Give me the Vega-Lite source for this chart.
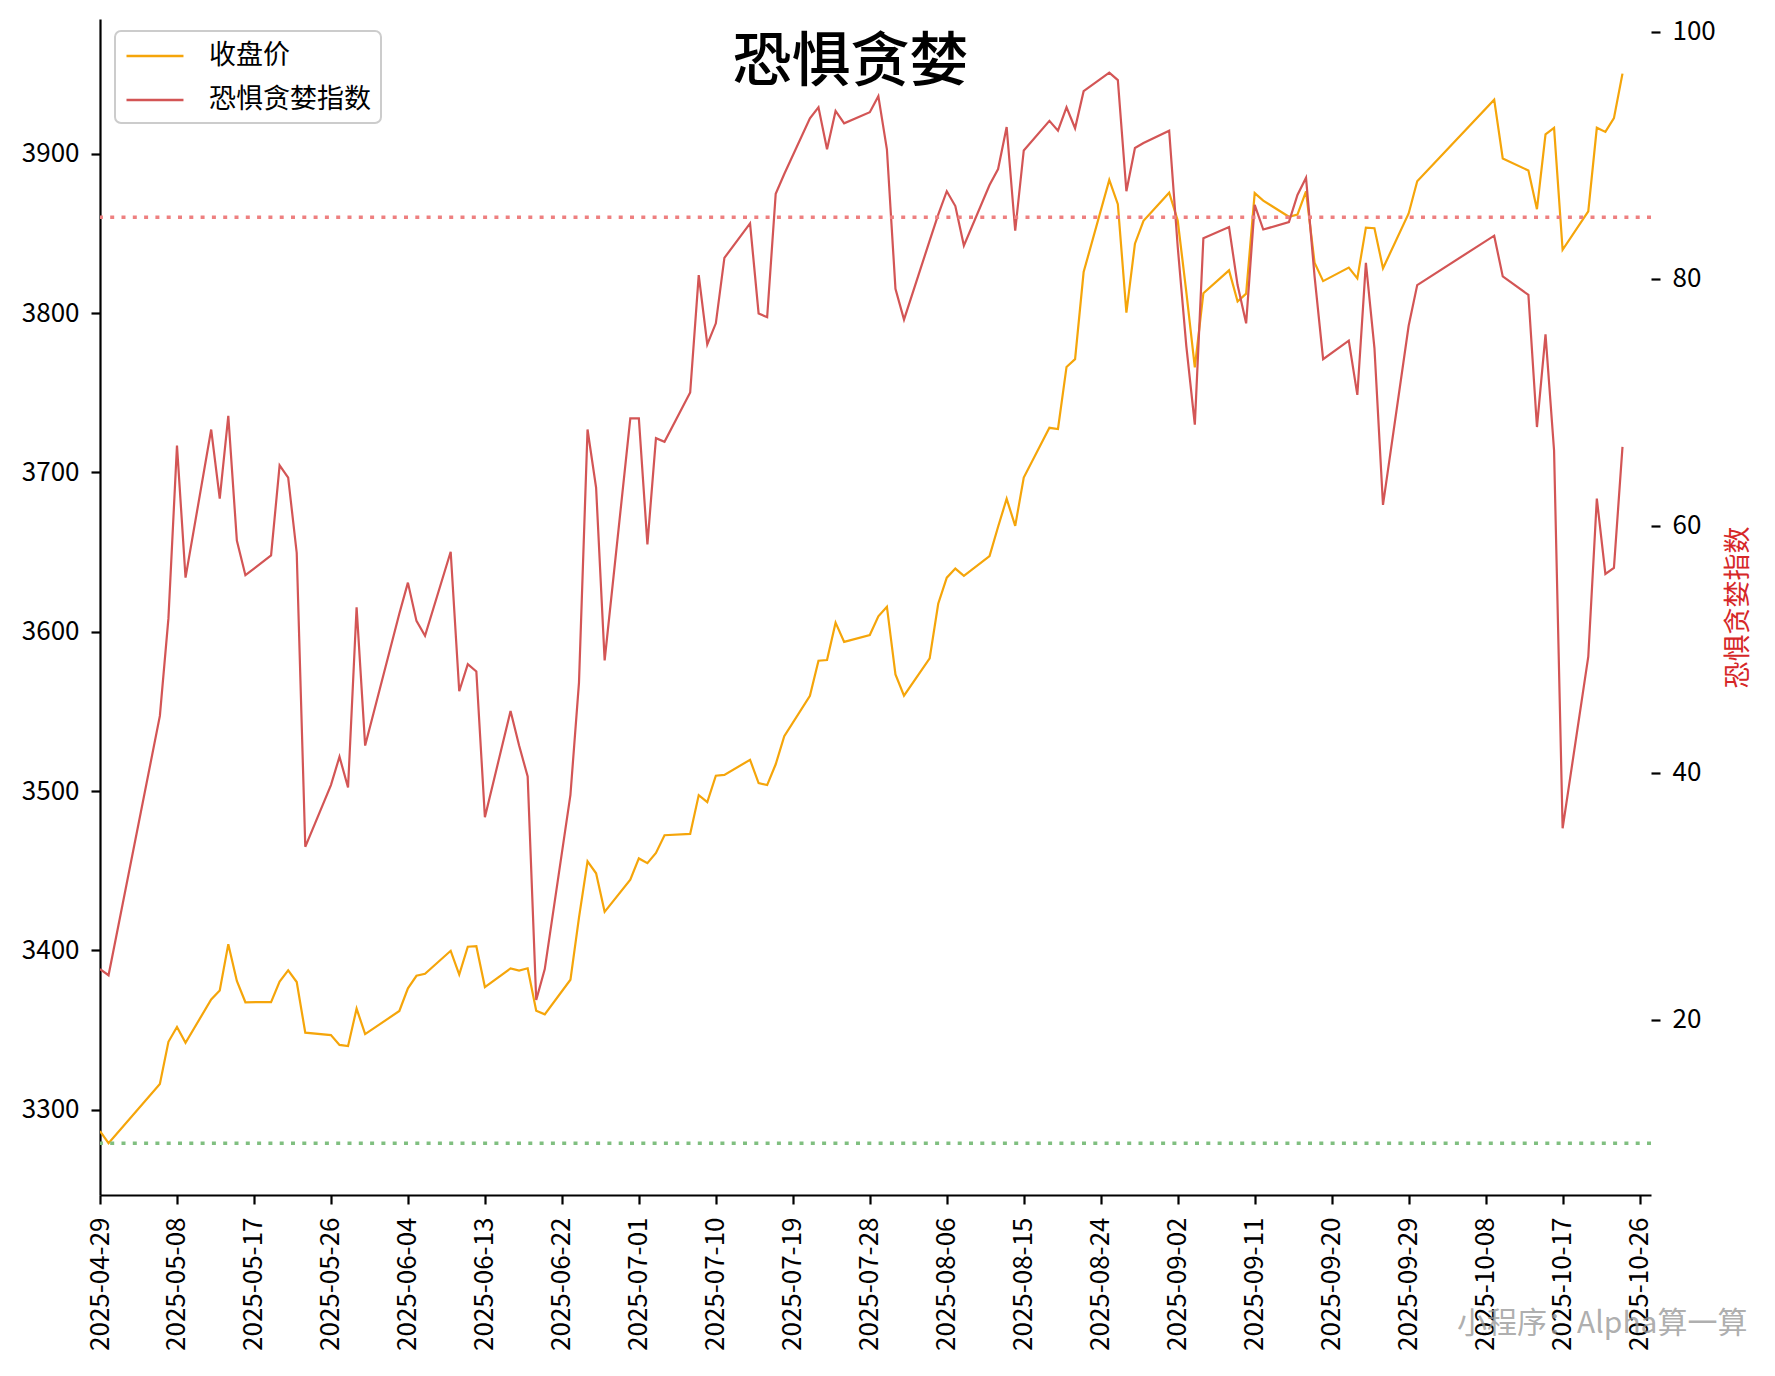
{
  "$schema": "https://vega.github.io/schema/vega-lite/v6.json",
  "width": 1551,
  "height": 1176,
  "autosize": {"type": "none"},
  "padding": {"left": 100, "top": 19, "right": 124, "bottom": 181},
  "background": "white",
  "config": {
    "font": "Noto Sans CJK SC",
    "view": {"stroke": null},
    "axis": {
      "labelFont": "Noto Sans CJK SC",
      "labelFontSize": 26,
      "labelColor": "black",
      "tickColor": "black",
      "domainColor": "black",
      "tickWidth": 2.2,
      "domainWidth": 2.2,
      "tickSize": 9,
      "labelPadding": 12,
      "grid": false,
      "titleFont": "Noto Sans CJK SC",
      "titleFontWeight": "normal"
    },
    "legend": {
      "orient": "none",
      "legendX": 15,
      "legendY": 12,
      "symbolType": "M-1,0H3.22",
      "symbolSize": 729,
      "symbolStrokeWidth": 2.5,
      "labelFont": "Noto Sans CJK SC",
      "labelFontSize": 27,
      "labelColor": "black",
      "labelOffset": 54,
      "rowPadding": 16,
      "padding": 10,
      "strokeColor": "#cccccc",
      "strokeWidth": 2,
      "cornerRadius": 6,
      "fillColor": "white",
      "labelLimit": 400
    }
  },
  "data": {
    "values": [
      {"date": "2025-04-29", "close": 3286.65, "fg": 24.1},
      {"date": "2025-04-30", "close": 3279.03, "fg": 23.6},
      {"date": "2025-05-06", "close": 3316.11, "fg": 44.6},
      {"date": "2025-05-07", "close": 3342.67, "fg": 52.5},
      {"date": "2025-05-08", "close": 3352.00, "fg": 66.5},
      {"date": "2025-05-09", "close": 3342.00, "fg": 55.8},
      {"date": "2025-05-12", "close": 3369.24, "fg": 67.8},
      {"date": "2025-05-13", "close": 3374.87, "fg": 62.2},
      {"date": "2025-05-14", "close": 3403.95, "fg": 68.9},
      {"date": "2025-05-15", "close": 3380.82, "fg": 58.8},
      {"date": "2025-05-16", "close": 3367.46, "fg": 56.0},
      {"date": "2025-05-19", "close": 3367.58, "fg": 57.6},
      {"date": "2025-05-20", "close": 3380.48, "fg": 64.9},
      {"date": "2025-05-21", "close": 3387.57, "fg": 63.9},
      {"date": "2025-05-22", "close": 3380.19, "fg": 57.8},
      {"date": "2025-05-23", "close": 3348.37, "fg": 34.0},
      {"date": "2025-05-26", "close": 3346.84, "fg": 39.0},
      {"date": "2025-05-27", "close": 3340.69, "fg": 41.3},
      {"date": "2025-05-28", "close": 3339.93, "fg": 38.8},
      {"date": "2025-05-29", "close": 3363.45, "fg": 53.4},
      {"date": "2025-05-30", "close": 3347.49, "fg": 42.2},
      {"date": "2025-06-03", "close": 3361.98, "fg": 52.9},
      {"date": "2025-06-04", "close": 3376.20, "fg": 55.4},
      {"date": "2025-06-05", "close": 3384.10, "fg": 52.3},
      {"date": "2025-06-06", "close": 3385.36, "fg": 51.1},
      {"date": "2025-06-09", "close": 3399.77, "fg": 57.9},
      {"date": "2025-06-10", "close": 3384.82, "fg": 46.6},
      {"date": "2025-06-11", "close": 3402.32, "fg": 48.8},
      {"date": "2025-06-12", "close": 3402.66, "fg": 48.2},
      {"date": "2025-06-13", "close": 3377.00, "fg": 36.4},
      {"date": "2025-06-16", "close": 3388.73, "fg": 45.0},
      {"date": "2025-06-17", "close": 3387.40, "fg": 42.2},
      {"date": "2025-06-18", "close": 3388.81, "fg": 39.7},
      {"date": "2025-06-19", "close": 3362.11, "fg": 21.6},
      {"date": "2025-06-20", "close": 3359.90, "fg": 24.1},
      {"date": "2025-06-23", "close": 3381.58, "fg": 38.2},
      {"date": "2025-06-24", "close": 3420.57, "fg": 47.3},
      {"date": "2025-06-25", "close": 3455.97, "fg": 67.8},
      {"date": "2025-06-26", "close": 3448.45, "fg": 63.1},
      {"date": "2025-06-27", "close": 3424.23, "fg": 49.1},
      {"date": "2025-06-30", "close": 3444.43, "fg": 68.7},
      {"date": "2025-07-01", "close": 3457.75, "fg": 68.7},
      {"date": "2025-07-02", "close": 3454.79, "fg": 58.5},
      {"date": "2025-07-03", "close": 3461.15, "fg": 67.1},
      {"date": "2025-07-04", "close": 3472.32, "fg": 66.8},
      {"date": "2025-07-07", "close": 3473.13, "fg": 70.8},
      {"date": "2025-07-08", "close": 3497.48, "fg": 80.3},
      {"date": "2025-07-09", "close": 3493.05, "fg": 74.7},
      {"date": "2025-07-10", "close": 3509.68, "fg": 76.4},
      {"date": "2025-07-11", "close": 3510.18, "fg": 81.7},
      {"date": "2025-07-14", "close": 3519.65, "fg": 84.5},
      {"date": "2025-07-15", "close": 3505.00, "fg": 77.2},
      {"date": "2025-07-16", "close": 3503.78, "fg": 76.9},
      {"date": "2025-07-17", "close": 3516.83, "fg": 86.9},
      {"date": "2025-07-18", "close": 3534.48, "fg": 88.5},
      {"date": "2025-07-21", "close": 3559.79, "fg": 93.0},
      {"date": "2025-07-22", "close": 3581.86, "fg": 93.9},
      {"date": "2025-07-23", "close": 3582.30, "fg": 90.5},
      {"date": "2025-07-24", "close": 3605.73, "fg": 93.6},
      {"date": "2025-07-25", "close": 3593.66, "fg": 92.6},
      {"date": "2025-07-28", "close": 3597.94, "fg": 93.5},
      {"date": "2025-07-29", "close": 3609.71, "fg": 94.8},
      {"date": "2025-07-30", "close": 3615.72, "fg": 90.5},
      {"date": "2025-07-31", "close": 3573.21, "fg": 79.2},
      {"date": "2025-08-01", "close": 3559.95, "fg": 76.7},
      {"date": "2025-08-04", "close": 3583.31, "fg": 83.1},
      {"date": "2025-08-05", "close": 3617.60, "fg": 85.2},
      {"date": "2025-08-06", "close": 3633.99, "fg": 87.1},
      {"date": "2025-08-07", "close": 3639.67, "fg": 85.9},
      {"date": "2025-08-08", "close": 3635.13, "fg": 82.7},
      {"date": "2025-08-11", "close": 3647.55, "fg": 87.6},
      {"date": "2025-08-12", "close": 3665.92, "fg": 88.9},
      {"date": "2025-08-13", "close": 3683.46, "fg": 92.3},
      {"date": "2025-08-14", "close": 3666.44, "fg": 83.9},
      {"date": "2025-08-15", "close": 3696.77, "fg": 90.4},
      {"date": "2025-08-18", "close": 3728.03, "fg": 92.8},
      {"date": "2025-08-19", "close": 3727.29, "fg": 92.0},
      {"date": "2025-08-20", "close": 3766.21, "fg": 93.9},
      {"date": "2025-08-21", "close": 3771.10, "fg": 92.2},
      {"date": "2025-08-22", "close": 3825.76, "fg": 95.2},
      {"date": "2025-08-25", "close": 3883.56, "fg": 96.7},
      {"date": "2025-08-26", "close": 3868.38, "fg": 96.1},
      {"date": "2025-08-27", "close": 3800.35, "fg": 87.1},
      {"date": "2025-08-28", "close": 3843.60, "fg": 90.6},
      {"date": "2025-08-29", "close": 3857.93, "fg": 91.0},
      {"date": "2025-09-01", "close": 3875.53, "fg": 92.0},
      {"date": "2025-09-02", "close": 3858.13, "fg": 82.6},
      {"date": "2025-09-03", "close": 3813.56, "fg": 74.6},
      {"date": "2025-09-04", "close": 3765.88, "fg": 68.2},
      {"date": "2025-09-05", "close": 3812.51, "fg": 83.3},
      {"date": "2025-09-08", "close": 3826.84, "fg": 84.2},
      {"date": "2025-09-09", "close": 3807.29, "fg": 79.5},
      {"date": "2025-09-10", "close": 3812.22, "fg": 76.4},
      {"date": "2025-09-11", "close": 3875.31, "fg": 86.0},
      {"date": "2025-09-12", "close": 3870.60, "fg": 84.0},
      {"date": "2025-09-15", "close": 3860.50, "fg": 84.6},
      {"date": "2025-09-16", "close": 3861.87, "fg": 86.8},
      {"date": "2025-09-17", "close": 3876.34, "fg": 88.2},
      {"date": "2025-09-18", "close": 3831.66, "fg": 80.2},
      {"date": "2025-09-19", "close": 3820.09, "fg": 73.5},
      {"date": "2025-09-22", "close": 3828.58, "fg": 75.0},
      {"date": "2025-09-23", "close": 3821.83, "fg": 70.6},
      {"date": "2025-09-24", "close": 3853.64, "fg": 81.3},
      {"date": "2025-09-25", "close": 3853.30, "fg": 74.4},
      {"date": "2025-09-26", "close": 3828.11, "fg": 61.7},
      {"date": "2025-09-29", "close": 3862.53, "fg": 76.2},
      {"date": "2025-09-30", "close": 3882.78, "fg": 79.5},
      {"date": "2025-10-09", "close": 3933.97, "fg": 83.5},
      {"date": "2025-10-10", "close": 3897.03, "fg": 80.2},
      {"date": "2025-10-13", "close": 3889.50, "fg": 78.7},
      {"date": "2025-10-14", "close": 3865.23, "fg": 68.0},
      {"date": "2025-10-15", "close": 3912.21, "fg": 75.5},
      {"date": "2025-10-16", "close": 3916.23, "fg": 66.1},
      {"date": "2025-10-17", "close": 3839.76, "fg": 35.5},
      {"date": "2025-10-20", "close": 3863.89, "fg": 49.4},
      {"date": "2025-10-21", "close": 3916.33, "fg": 62.2},
      {"date": "2025-10-22", "close": 3913.76, "fg": 56.1},
      {"date": "2025-10-23", "close": 3922.41, "fg": 56.6},
      {"date": "2025-10-24", "close": 3950.31, "fg": 66.4}
    ]
  },
  "layer": [
    {
      "mark": {"type": "line", "strokeWidth": 2.2, "clip": true},
      "encoding": {
        "x": {
          "field": "date",
          "type": "temporal",
          "scale": {
            "type": "utc",
            "domain": [
              {"year": 2025, "month": 4, "date": 29, "utc": true},
              {"year": 2025, "month": 10, "date": 27, "hours": 8, "utc": true}
            ]
          },
          "axis": {
            "orient": "bottom",
            "values": [
              {"year": 2025, "month": 4, "date": 29, "utc": true},
              {"year": 2025, "month": 5, "date": 8, "utc": true},
              {"year": 2025, "month": 5, "date": 17, "utc": true},
              {"year": 2025, "month": 5, "date": 26, "utc": true},
              {"year": 2025, "month": 6, "date": 4, "utc": true},
              {"year": 2025, "month": 6, "date": 13, "utc": true},
              {"year": 2025, "month": 6, "date": 22, "utc": true},
              {"year": 2025, "month": 7, "date": 1, "utc": true},
              {"year": 2025, "month": 7, "date": 10, "utc": true},
              {"year": 2025, "month": 7, "date": 19, "utc": true},
              {"year": 2025, "month": 7, "date": 28, "utc": true},
              {"year": 2025, "month": 8, "date": 6, "utc": true},
              {"year": 2025, "month": 8, "date": 15, "utc": true},
              {"year": 2025, "month": 8, "date": 24, "utc": true},
              {"year": 2025, "month": 9, "date": 2, "utc": true},
              {"year": 2025, "month": 9, "date": 11, "utc": true},
              {"year": 2025, "month": 9, "date": 20, "utc": true},
              {"year": 2025, "month": 9, "date": 29, "utc": true},
              {"year": 2025, "month": 10, "date": 8, "utc": true},
              {"year": 2025, "month": 10, "date": 17, "utc": true},
              {"year": 2025, "month": 10, "date": 26, "utc": true}
            ],
            "format": "%Y-%m-%d",
            "labelAngle": 270,
            "labelAlign": "right",
            "labelBaseline": "middle",
            "labelPadding": 13,
            "labelOverlap": false,
            "labelFlush": false,
            "labelBound": false,
            "title": "小程序：Alpha算一算",
            "titleX": 1647,
            "titleY": 128,
            "titleAlign": "right",
            "titleBaseline": "middle",
            "titleAngle": 0,
            "titleColor": "#999999",
            "titleOpacity": 0.8,
            "titleFontSize": 30,
            "titleFontWeight": "normal"
          }
        },
        "y": {
          "field": "close",
          "type": "quantitative",
          "scale": {"domain": [3246.5, 3984.6], "nice": false, "zero": false},
          "axis": {
            "orient": "left",
            "values": [3300, 3400, 3500, 3600, 3700, 3800, 3900],
            "format": "d",
            "title": null
          }
        },
        "color": {
          "datum": "收盘价",
          "type": "nominal",
          "scale": {"domain": ["收盘价", "恐惧贪婪指数"], "range": ["#F5A50A", "#D35555"]},
          "legend": {"title": null}
        }
      }
    },
    {
      "layer": [
        {
          "mark": {"type": "line", "strokeWidth": 2.2, "clip": true},
          "encoding": {
            "x": {
              "field": "date",
              "type": "temporal",
              "scale": {
                "type": "utc",
                "domain": [
                  {"year": 2025, "month": 4, "date": 29, "utc": true},
                  {"year": 2025, "month": 10, "date": 27, "hours": 8, "utc": true}
                ]
              },
              "axis": {
                "orient": "top",
                "labels": false,
                "ticks": false,
                "domain": false,
                "grid": false,
                "title": "恐惧贪婪",
                "titleX": 750,
                "titleY": 61,
                "titleAlign": "center",
                "titleBaseline": "alphabetic",
                "titleAngle": 0,
                "titleFontSize": 59,
                "titleFontWeight": 500,
                "titleColor": "black",
                "titleFont": "Noto Sans CJK SC"
              }
            },
            "y": {
              "field": "fg",
              "type": "quantitative",
              "scale": {"domain": [5.8, 101.05], "nice": false, "zero": false},
              "axis": {
                "orient": "right",
                "domain": false,
                "values": [20, 40, 60, 80, 100],
                "title": "恐惧贪婪指数",
                "titleColor": "#D62728",
                "titleFontSize": 27,
                "titleFontWeight": "normal",
                "titleAngle": 270,
                "titleX": 87,
                "titleY": 588,
                "titleAlign": "center",
                "titleBaseline": "middle"
              }
            },
            "color": {"datum": "恐惧贪婪指数", "type": "nominal"}
          }
        },
        {
          "data": {"values": [{"level": "greed"}]},
          "mark": {"type": "rule", "color": "#EE8080", "strokeWidth": 3.5, "strokeDash": [4, 7.3]},
          "encoding": {"y": {"datum": 85, "type": "quantitative"}}
        },
        {
          "data": {"values": [{"level": "fear"}]},
          "mark": {"type": "rule", "color": "#80BF80", "strokeWidth": 3.5, "strokeDash": [4, 7.3]},
          "encoding": {"y": {"datum": 10, "type": "quantitative"}}
        }
      ]
    }
  ],
  "resolve": {"scale": {"y": "independent"}, "axis": {"x": "independent"}}
}
